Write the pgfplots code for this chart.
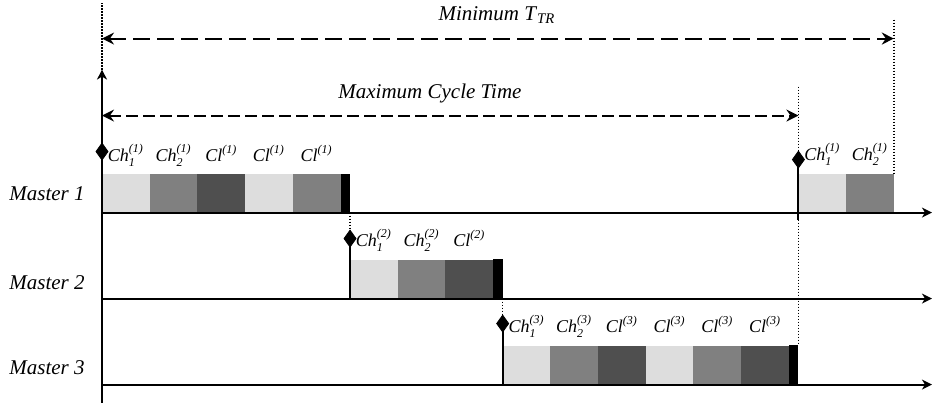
\documentclass[border=0pt]{standalone}
\usepackage{amsmath}
\usepackage{fontspec}
\setmainfont{Liberation Serif}
\usepackage{pgfplots}
\pgfplotsset{compat=1.18}
\usetikzlibrary{arrows.meta}
\definecolor{cl}{HTML}{DDDDDD}
\definecolor{cm}{HTML}{808080}
\definecolor{cd}{HTML}{4F4F4F}
\newcommand\Ch[2]{\textit{Ch}$_{\text{\itshape #1}}^{\text{\itshape (#2)}}$}
\newcommand\Cl[1]{\textit{Cl}$^{\text{\itshape (#1)}}$}
\tikzset{
  blk/.style={draw=none},
  tline/.style={line width=1pt, -{Stealth[length=5pt,width=5pt,inset=1.5pt]}},
  dots/.style={line width=0.7pt, dash pattern=on 0.7pt off 0.8pt},
  sline/.style={line width=1pt},
  lab/.style={font=\fontsize{9}{10}\selectfont, anchor=base},
  big/.style={font=\fontsize{10.5}{12}\selectfont}}
\begin{document}
\begin{tikzpicture}
\begin{axis}[scale only axis, width=466.5pt, height=200.5pt,
  xmin=-2.1384, xmax=17.4214, ymin=0, ymax=401,
  axis lines=none, clip=false]
% ---- Master 1, first cycle (base 190) ----
\addplot[blk, fill=cl] coordinates {(0,190) (1,190) (1,228.5) (0,228.5)} --cycle;
\addplot[blk, fill=cm] coordinates {(1,190) (2,190) (2,228.5) (1,228.5)} --cycle;
\addplot[blk, fill=cd] coordinates {(2,190) (3,190) (3,228.5) (2,228.5)} --cycle;
\addplot[blk, fill=cl] coordinates {(3,190) (4,190) (4,228.5) (3,228.5)} --cycle;
\addplot[blk, fill=cm] coordinates {(4,190) (5,190) (5,228.5) (4,228.5)} --cycle;
\addplot[blk, fill=black] coordinates {(5,190) (5.2,190) (5.2,229) (5,229)} --cycle;
% ---- Master 2 (base 104) ----
\addplot[blk, fill=cl] coordinates {(5.2,104) (6.2,104) (6.2,142.5) (5.2,142.5)} --cycle;
\addplot[blk, fill=cm] coordinates {(6.2,104) (7.2,104) (7.2,142.5) (6.2,142.5)} --cycle;
\addplot[blk, fill=cd] coordinates {(7.2,104) (8.2,104) (8.2,142.5) (7.2,142.5)} --cycle;
\addplot[blk, fill=black] coordinates {(8.2,104) (8.4,104) (8.4,144) (8.2,144)} --cycle;
% ---- Master 3 (base 18) ----
\addplot[blk, fill=cl] coordinates {(8.4,18) (9.4,18) (9.4,56.5) (8.4,56.5)} --cycle;
\addplot[blk, fill=cm] coordinates {(9.4,18) (10.4,18) (10.4,56.5) (9.4,56.5)} --cycle;
\addplot[blk, fill=cd] coordinates {(10.4,18) (11.4,18) (11.4,56.5) (10.4,56.5)} --cycle;
\addplot[blk, fill=cl] coordinates {(11.4,18) (12.4,18) (12.4,56.5) (11.4,56.5)} --cycle;
\addplot[blk, fill=cm] coordinates {(12.4,18) (13.4,18) (13.4,56.5) (12.4,56.5)} --cycle;
\addplot[blk, fill=cd] coordinates {(13.4,18) (14.4,18) (14.4,56.5) (13.4,56.5)} --cycle;
\addplot[blk, fill=black] coordinates {(14.4,18) (14.6,18) (14.6,57.5) (14.4,57.5)} --cycle;
% ---- Master 1, second cycle ----
\addplot[blk, fill=cl] coordinates {(14.6,190) (15.6,190) (15.6,228.5) (14.6,228.5)} --cycle;
\addplot[blk, fill=cm] coordinates {(15.6,190) (16.6,190) (16.6,228.5) (15.6,228.5)} --cycle;
% ---- time axes ----
\addplot[tline, mark=none] coordinates {(0,0) (0,333)};
\addplot[tline, mark=none] coordinates {(0,190) (17.40,190)};
\addplot[tline, mark=none] coordinates {(0,104) (17.40,104)};
\addplot[tline, mark=none] coordinates {(0,18) (17.40,18)};
% ---- dotted guides ----
\addplot[dots, mark=none] coordinates {(0,333) (0,400)};
\addplot[dots, mark=none] coordinates {(5.2,190) (5.2,169)};
\addplot[dots, mark=none] coordinates {(8.4,104) (8.4,86)};
\addplot[dots, mark=none] coordinates {(14.6,316) (14.6,246)};
\addplot[dots, mark=none] coordinates {(14.6,183) (14.6,57.5)};
\addplot[dots, mark=none] coordinates {(16.6,383) (16.6,228.5)};
% ---- start lines ----
\addplot[sline, mark=none] coordinates {(5.2,166) (5.2,104)};
\addplot[sline, mark=none] coordinates {(8.4,79) (8.4,18)};
\addplot[sline, mark=none] coordinates {(14.6,243) (14.6,183)};
% ---- start markers ----
\addplot[only marks, mark=diamond*, mark size=4pt, mark options={yscale=1.05, fill=black}]
  coordinates {(0,251) (5.2,164) (8.4,79) (14.6,243)};
% ---- dashed interval arrows ----
\addplot[line width=1pt, dash pattern=on 8.5pt off 3.5pt, mark=none,
  {Stealth[length=6pt,width=6pt,inset=2pt]}-{Stealth[length=6pt,width=6pt,inset=2pt]}]
  coordinates {(0,364) (16.6,364)};
\addplot[line width=1pt, dash pattern=on 6pt off 2.5pt, mark=none,
  {Stealth[length=6pt,width=6pt,inset=2pt]}-{Stealth[length=6pt,width=6pt,inset=2pt]}]
  coordinates {(0,287) (14.6,287)};
% ---- texts ----
\node[big, anchor=base] at (axis cs:8.28,382) {\textit{Minimum T}$_{\text{\itshape TR}}$};
\node[big, anchor=base] at (axis cs:6.876,304) {\textit{Maximum Cycle Time}};
\node[big, anchor=base east, inner sep=0pt] at (axis cs:-0.356,202) {\textit{Master 1}};
\node[big, anchor=base east, inner sep=0pt] at (axis cs:-0.356,113) {\textit{Master 2}};
\node[big, anchor=base east, inner sep=0pt] at (axis cs:-0.356,28) {\textit{Master 3}};
\node[lab] at (axis cs:0.5,241) {\Ch{1}{1}};
\node[lab] at (axis cs:1.5,241) {\Ch{2}{1}};
\node[lab] at (axis cs:2.5,241) {\Cl{1}};
\node[lab] at (axis cs:3.5,241) {\Cl{1}};
\node[lab] at (axis cs:4.5,241) {\Cl{1}};
\node[lab] at (axis cs:15.1,242) {\Ch{1}{1}};
\node[lab] at (axis cs:16.1,242) {\Ch{2}{1}};
\node[lab] at (axis cs:5.7,156) {\Ch{1}{2}};
\node[lab] at (axis cs:6.7,156) {\Ch{2}{2}};
\node[lab] at (axis cs:7.7,156) {\Cl{2}};
\node[lab] at (axis cs:8.9,70) {\Ch{1}{3}};
\node[lab] at (axis cs:9.9,70) {\Ch{2}{3}};
\node[lab] at (axis cs:10.9,70) {\Cl{3}};
\node[lab] at (axis cs:11.9,70) {\Cl{3}};
\node[lab] at (axis cs:12.9,70) {\Cl{3}};
\node[lab] at (axis cs:13.9,70) {\Cl{3}};
\end{axis}
\path (current axis.south west) rectangle (current axis.north east);
\end{tikzpicture}
\end{document}
